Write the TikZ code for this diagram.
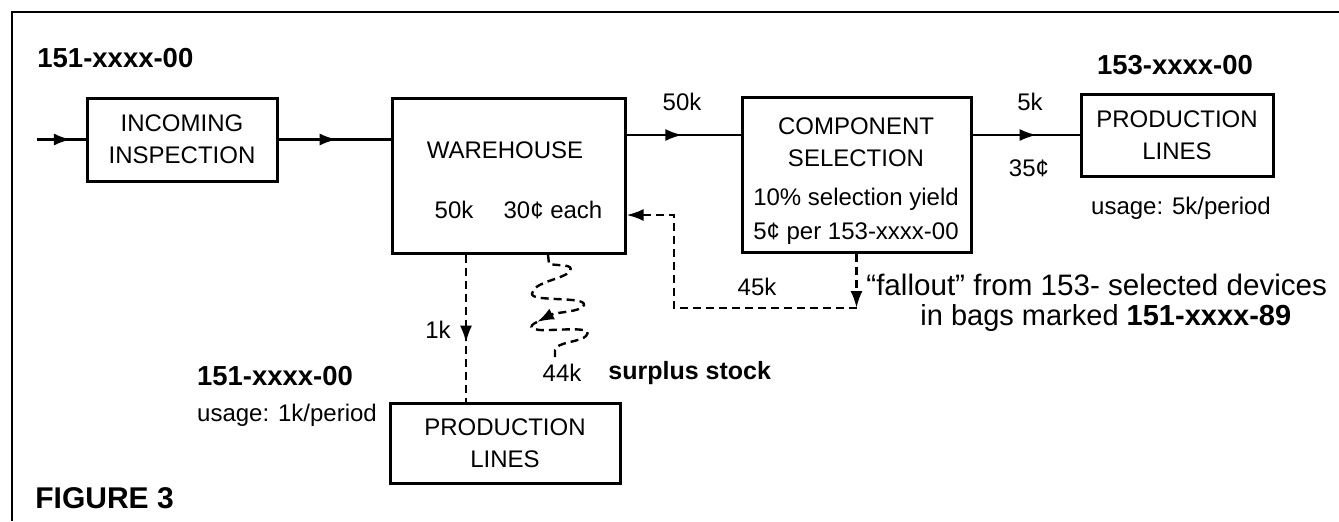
\documentclass[tikz,border=0pt]{standalone}
\usepackage{fontspec}
\setmainfont{Liberation Sans}
\usetikzlibrary{arrows.meta,decorations.markings}

\begin{document}
\begin{tikzpicture}[x=0.5pt, y=-0.5pt,
    every node/.style={font=\fontsize{12}{16}\selectfont, inner sep=0pt, align=center},
    box/.style={draw, line width=1.5pt},
    tag/.style={font=\bfseries\fontsize{13.75}{16}\selectfont},
    flow/.style={line width=1.2pt, postaction={decorate},
      decoration={markings, mark=at position #1 with {\arrow{Latex[length=8.5pt,width=6pt]}}}},
    feed/.style={line width=1.2pt, dash pattern=on 4pt off 2.5pt},
    tip/.style={-{Latex[length=8.5pt,width=6pt]}}]
    \useasboundingbox (0,0) rectangle (1339,521);
    \draw[line width=1pt] (12,521) |- (1339,12);

    % upper flow
    \node[tag, anchor=west] (codeA) at (37,58) {151-xxxx-00};
    \node[box, minimum width=95pt, minimum height=41.5pt] (inc) at (182,139.5) {INCOMING\\INSPECTION};
    \node[box, minimum width=116.5pt, minimum height=77.5pt] (wh) at (508.5,175.5) {};
    \node (whname) at (505,150) {WAREHOUSE};
    \node (whqty) at (454,210) {50k};
    \node (whcost) at (553,210) {30¢ each};
    \node[box, minimum width=114.5pt, minimum height=77.5pt] (cs) at (856.5,174.5) {};
    \node (csname) at (856,142) {COMPONENT\\SELECTION};
    \node (csinfo) at (856,216) {10\% selection yield\\[1pt]5¢ per 153-xxxx-00};
    \node[box, minimum width=96pt, minimum height=41pt] (plA) at (1177,135) {PRODUCTION\\LINES};
    \node[tag] (codeC) at (1175,65) {153-xxxx-00};
    \node (useA) at (1181,208) {usage: 5k/period};
    \node (qWC) at (682,102) {50k};
    \node (qCP) at (1030,102) {5k};
    \node (cCP) at (1029,168) {35¢};

    % lower part
    \node[box, minimum width=115pt, minimum height=40pt] (plB) at (505,443) {PRODUCTION\\LINES};
    \node[tag] (codeB) at (275,376) {151-xxxx-00};
    \node (useB) at (287,415) {usage: 1k/period};
    \node (qPB) at (438,330) {1k};
    \node (qBack) at (757,287) {45k};
    \node (qSur) at (562,373) {44k};
    \node[font=\bfseries\fontsize{12.5}{16}\selectfont, anchor=west] (surplus) at (608,373) {surplus stock};
    \node[font=\fontsize{14.8}{17}\selectfont, anchor=west] (fall1) at (866,285) {“fallout” from 153- selected devices};
    \node[font=\fontsize{14.5}{17}\selectfont, anchor=west] (fall2) at (920,318) {in bags marked \textbf{151-xxxx-89}};
    \node[font=\bfseries\fontsize{15}{18}\selectfont, anchor=west] (fig) at (35,498) {FIGURE 3};

    % connectors
    \coordinate (src) at (37,139.5);
    \coordinate (tap) at (466,300);
    \coordinate (fbcorner) at (856.5,308);
    \coordinate (fbup) at (674,215);
    \coordinate (coiltop) at (548,253);
    \coordinate (coiltip) at (537,322);
    \coordinate (coilend) at (555,357);
    \draw[flow=0.7] (src) -- (inc);
    \draw[flow=0.52] (inc) -- (inc -| wh.west);
    \draw[flow=0.49] (wh.east |- plA) -- (cs.west |- plA);
    \draw[flow=0.6] (cs.east |- plA) -- (plA);
    \draw[feed, flow=0.6] (wh.south -| tap) -- (plB.north -| tap);
    \draw[feed, tip] (cs.south) -- (fbcorner);
    \draw[feed, tip] (fbcorner) -| (fbup) -- (wh.east |- fbup);
    \draw[feed, tip] (wh.south -| coiltop) -- (549,264) .. controls (560,266) and (574,264) .. (570,271)
      .. controls (565,279) and (532,282) .. (532,294) .. controls (532,302) and (586,296) .. (584,305)
      .. controls (582,312) and (556,312) .. (coiltip);
    \draw[feed] (coiltip) .. controls (526,327) and (532,331) .. (550,330) .. controls (576,329) and (593,328) .. (586,336)
      .. controls (581,342) and (556,342) .. (555,350) -- (coilend);
\end{tikzpicture}
\end{document}
